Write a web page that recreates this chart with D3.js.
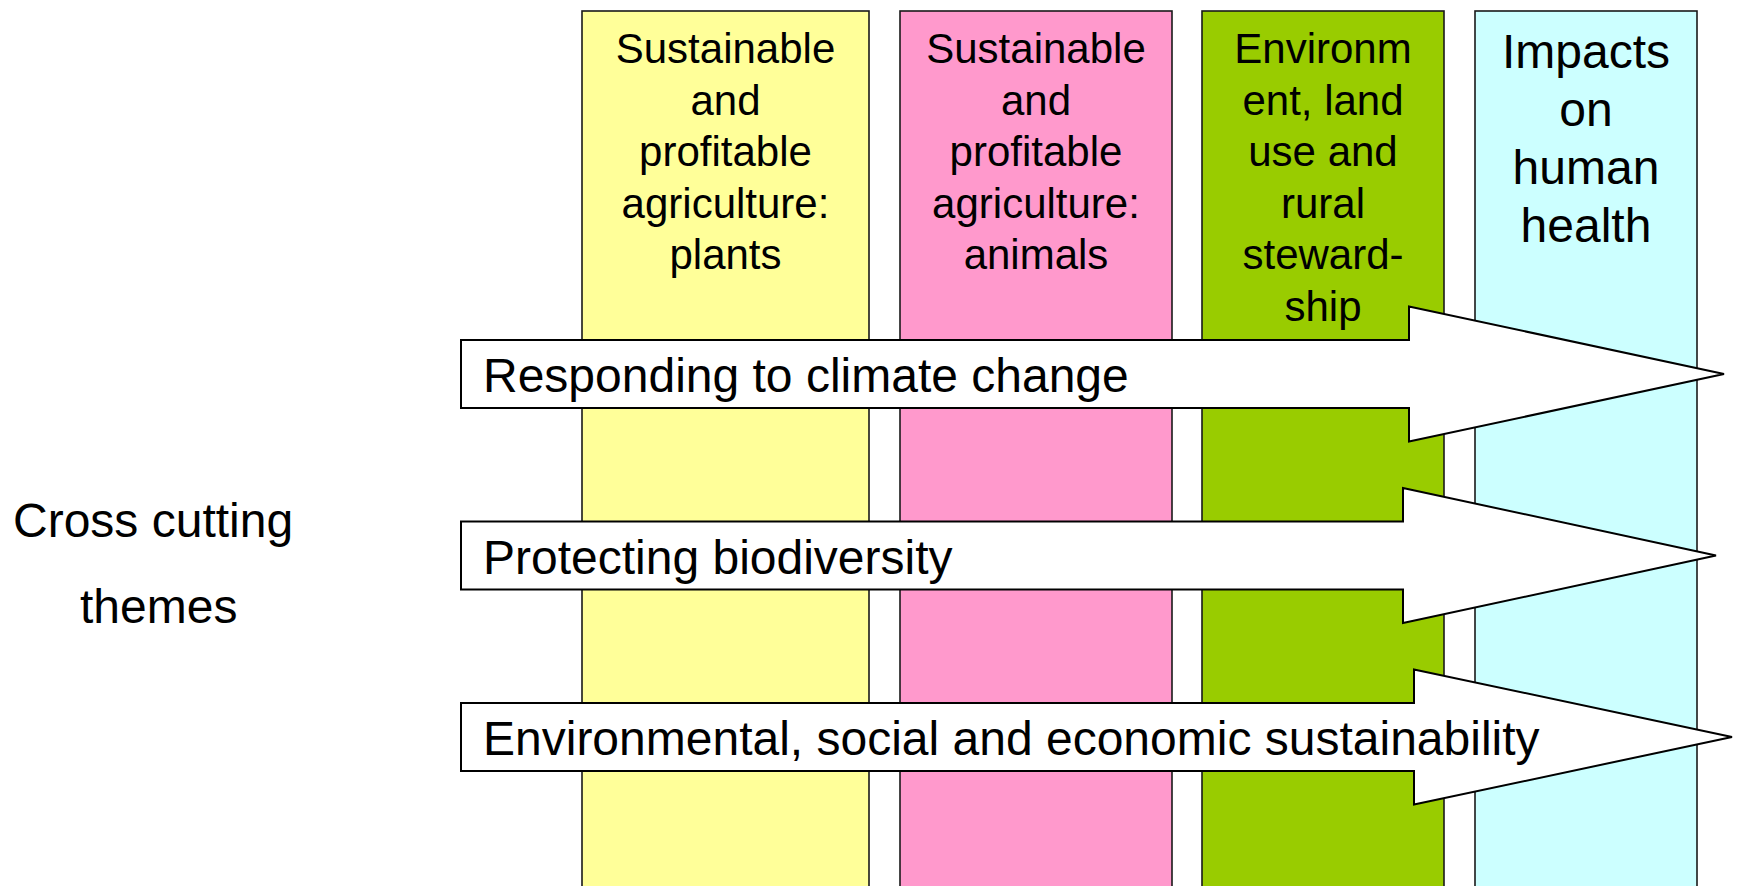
<!DOCTYPE html>
<html>
<head>
<meta charset="utf-8">
<script src="https://cdn.jsdelivr.net/npm/d3@7/dist/d3.min.js"></script>
<style>
  html, body { margin: 0; padding: 0; background: #ffffff; }
  svg { display: block; }
  text { font-family: "Liberation Sans", Arial, Helvetica, sans-serif; fill: #000; }
</style>
</head>
<body>
<svg id="chart" width="1737" height="886"></svg>
<script>
// ---------- data ----------
const columnNames = [
  "Sustainable and profitable agriculture: plants",
  "Sustainable and profitable agriculture: animals",
  "Environment, land use and rural stewardship",
  "Impacts on human health"
];
const columnLines = [
  ["Sustainable", "and", "profitable", "agriculture:", "plants"],
  ["Sustainable", "and", "profitable", "agriculture:", "animals"],
  ["Environm", "ent, land", "use and", "rural", "steward-", "ship"],
  ["Impacts", "on", "human", "health"]
];
const themes = [
  "Responding to climate change",
  "Protecting biodiversity",
  "Environmental, social and economic sustainability"
];
const sideLabelLines = ["Cross cutting", "themes"];

// ---------- styles & layout ----------
const columnColors = ["#FFFF99", "#FF99CC", "#99CC00", "#CCFFFF"];
const columnEdges = [[582, 869], [900, 1172], [1202, 1444], [1475, 1697]];
const columnFont = [42, 42, 42, 48];
const columnFirstBaseline = [63, 63, 63, 68];
const columnLineStep = [51.5, 51.5, 51.5, 58];
const arrowNotch = [1409, 1403, 1414];
const arrowTip = [1724, 1716, 1732];

const W = 1737, H = 886;
const svg = d3.select("#chart");

// scales
const yTheme = d3.scalePoint().domain(themes).range([374, 737]);

// ---------- columns ----------
const cols = svg.append("g").selectAll("g.col")
  .data(columnNames)
  .join("g").attr("class", "col");

cols.append("rect")
  .attr("x", (d, i) => columnEdges[i][0])
  .attr("y", 11)
  .attr("width", (d, i) => columnEdges[i][1] - columnEdges[i][0])
  .attr("height", H + 20)
  .attr("fill", (d, i) => columnColors[i])
  .attr("stroke", "#1a1a1a")
  .attr("stroke-width", 1.6);

cols.each(function (d, i) {
  const cx = (columnEdges[i][0] + columnEdges[i][1]) / 2;
  const t = d3.select(this).append("text")
    .attr("text-anchor", "middle")
    .attr("font-size", columnFont[i]);
  t.selectAll("tspan")
    .data(columnLines[i])
    .join("tspan")
    .attr("x", cx)
    .attr("y", (l, j) => columnFirstBaseline[i] + j * columnLineStep[i])
    .text(l => l);
});

// ---------- theme arrows ----------
const bodyLeft = 461, bodyHalf = 34, headHalf = 67.5;
const arrows = svg.append("g").selectAll("g.arrow")
  .data(themes)
  .join("g").attr("class", "arrow");

arrows.append("path")
  .attr("d", (d, i) => {
    const cy = yTheme(d);
    const p = d3.path();
    p.moveTo(bodyLeft, cy - bodyHalf);
    p.lineTo(arrowNotch[i], cy - bodyHalf);
    p.lineTo(arrowNotch[i], cy - headHalf);
    p.lineTo(arrowTip[i], cy);
    p.lineTo(arrowNotch[i], cy + headHalf);
    p.lineTo(arrowNotch[i], cy + bodyHalf);
    p.lineTo(bodyLeft, cy + bodyHalf);
    p.closePath();
    return p.toString();
  })
  .attr("fill", "#ffffff")
  .attr("stroke", "#000")
  .attr("stroke-width", 2)
  .attr("stroke-linejoin", "miter");

arrows.append("text")
  .attr("x", 483)
  .attr("y", d => yTheme(d) + 18)
  .attr("font-size", 48)
  .text(d => d);

// ---------- side label ----------
const sideX = [13, 80];
const sideY = [537, 623];
svg.append("g").selectAll("text")
  .data(sideLabelLines)
  .join("text")
  .attr("x", (d, i) => sideX[i])
  .attr("y", (d, i) => sideY[i])
  .attr("font-size", 48)
  .text(d => d);
</script>
</body>
</html>
